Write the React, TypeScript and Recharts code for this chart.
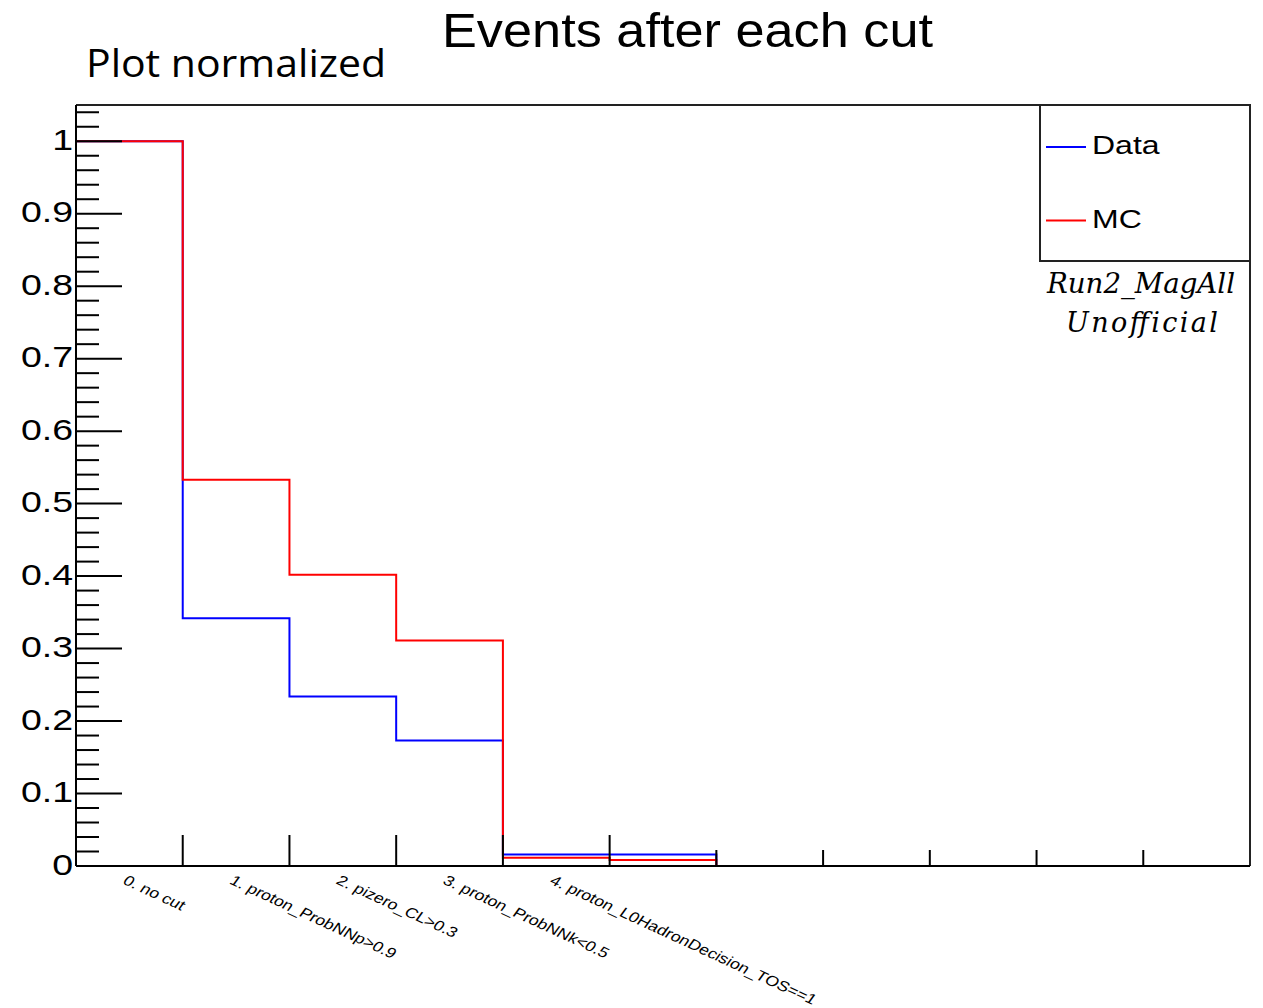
import React from 'react';
import { LineChart, Line, XAxis, YAxis, ReferenceLine, Legend } from 'recharts';

// cut-flow bins (only the first five carry a label)
const binLabels = [
  '0. no cut',
  '1. proton_ProbNNp>0.9',
  '2. pizero_CL>0.3',
  '3. proton_ProbNNk<0.5',
  '4. proton_L0HadronDecision_TOS==1',
];
// fraction of events surviving, normalised to the first bin
const dataFrac = [1, 0.342, 0.234, 0.173, 0.016, 0.016, 0, 0, 0, 0, 0];
const mcFrac = [1, 0.533, 0.402, 0.311, 0.0115, 0.0083, 0, 0, 0, 0, 0];

const nBins = dataFrac.length;
const yMax = 1.05;

// histogram drawn as steps: one point per low bin edge + the closing edge
const rows = dataFrac
  .map((d, i) => ({ edge: i, data: d, mc: mcFrac[i] }))
  .concat([{ edge: nBins, data: dataFrac[nBins - 1], mc: mcFrac[nBins - 1] }]);

// bin edges get a tick mark, labelled bin centres get the rotated text
const xTicks = [
  ...Array.from({ length: nBins - 1 }, (_, i) => i + 1),
  ...binLabels.map((_, i) => i + 0.5),
].sort((a, b) => a - b);

// ROOT style: minor every 0.02, major every 0.1
const yTicks = Array.from({ length: 53 }, (_, i) => Math.round(i * 2) / 100);
const isMajor = (v: number) => Math.round(v * 100) % 10 === 0;

const FONT = '"Liberation Sans", Arial, Helvetica, sans-serif';

const XTick = ({ x, y, payload }: any) => {
  const v = payload.value;
  if (Number.isInteger(v)) {
    const len = v <= binLabels.length ? 31 : 16;
    return <line x1={x} x2={x} y1={y} y2={y - len} stroke="#000" strokeWidth={2} />;
  }
  const label = binLabels[Math.floor(v)];
  return (
    <g transform={`translate(${x - 1},${y + 8}) scale(1.25,1) rotate(30)`}>
      <text x={0} y={0} dy="0.75em" fontFamily={FONT} fontSize={14.3} fill="#000">
        {label}
      </text>
    </g>
  );
};

const YTick = ({ x, y, payload }: any) => {
  const v = payload.value;
  const major = isMajor(v);
  const label = v === 0 ? '0' : v === 1 ? '1' : v.toFixed(1);
  return (
    <g>
      <line x1={x} x2={x + (major ? 46 : 23)} y1={y} y2={y} stroke="#000" strokeWidth={2} />
      {major && (
        <g transform={`translate(${x - 3},${y + 8.5}) scale(1.25,1)`}>
          <text textAnchor="end" fontFamily={FONT} fontSize={30} fill="#000">
            {label}
          </text>
        </g>
      )}
    </g>
  );
};

const LegendBox = ({ payload }: any) => (
  <svg width={212} height={159} style={{ display: 'block', overflow: 'visible' }}>
    <rect x={1} y={1} width={210} height={156} fill="#fff" stroke="#222" strokeWidth={2} />
    {(payload || []).map((entry: any, i: number) => {
      const cy = 43 + i * 73.5;
      return (
        <g key={entry.value}>
          <line x1={7} x2={47} y1={cy} y2={cy} stroke={entry.color} strokeWidth={2} />
          <g transform={`translate(53,${cy + 7}) scale(1.25,1)`}>
            <text fontFamily={FONT} fontSize={25.6} fill="#000">
              {entry.value}
            </text>
          </g>
        </g>
      );
    })}
  </svg>
);

export default function App() {
  return (
    <div style={{ position: 'absolute', left: 0, top: 0, width: 1263, height: 1008, background: '#fff' }}>
      <LineChart
        width={1263}
        height={1008}
        data={rows}
        margin={{ top: 105, right: 13, left: 0, bottom: 0 }}
      >
        <XAxis
          dataKey="edge"
          type="number"
          domain={[0, nBins]}
          ticks={xTicks}
          interval={0}
          height={142}
          tickSize={0}
          tickMargin={0}
          tickLine={false}
          tick={<XTick />}
          axisLine={{ stroke: '#000', strokeWidth: 2 }}
        />
        <YAxis
          type="number"
          domain={[0, yMax]}
          ticks={yTicks}
          interval={0}
          width={76}
          tickSize={0}
          tickMargin={0}
          tickLine={false}
          tick={<YTick />}
          axisLine={{ stroke: '#000', strokeWidth: 2 }}
        />
        <ReferenceLine y={yMax} stroke="#222" strokeWidth={2} />
        <ReferenceLine x={nBins} stroke="#222" strokeWidth={2} />
        <Legend
          layout="horizontal"
          verticalAlign="middle"
          align="center"
          content={<LegendBox />}
          wrapperStyle={{ position: 'absolute', left: 1039, top: 104, width: 212, height: 159 }}
        />
        <Line
          type="stepAfter"
          dataKey="data"
          name="Data"
          stroke="#0000ff"
          strokeWidth={2}
          dot={false}
          isAnimationActive={false}
        />
        <Line
          type="stepAfter"
          dataKey="mc"
          name="MC"
          stroke="#ff0000"
          strokeWidth={2}
          dot={false}
          isAnimationActive={false}
        />
      </LineChart>
      <svg
        width={1263}
        height={1008}
        style={{ position: 'absolute', left: 0, top: 0, pointerEvents: 'none' }}
      >
        <text
          x={442}
          y={47}
          fontFamily={FONT}
          fontSize={49}
          fill="#000"
          textLength={491}
          lengthAdjust="spacingAndGlyphs"
        >
          Events after each cut
        </text>
        <text
          x={86}
          y={77}
          fontFamily="'Open Sans', Lato, sans-serif"
          fontSize={38}
          fill="#000"
          textLength={300}
          lengthAdjust="spacingAndGlyphs"
        >
          Plot normalized
        </text>
        <text
          x={1141}
          y={293}
          textAnchor="middle"
          fontFamily="'DejaVu Serif', 'Liberation Serif', serif"
          fontStyle="italic"
          fontSize={27}
          fill="#000"
          textLength={188}
          lengthAdjust="spacingAndGlyphs"
        >
          Run2_MagAll
        </text>
        <text
          x={1142}
          y={332}
          textAnchor="middle"
          fontFamily="'DejaVu Serif', 'Liberation Serif', serif"
          fontStyle="italic"
          fontSize={27}
          fill="#000"
          textLength={152}
          lengthAdjust="spacing"
        >
          Unofficial
        </text>
      </svg>
    </div>
  );
}
